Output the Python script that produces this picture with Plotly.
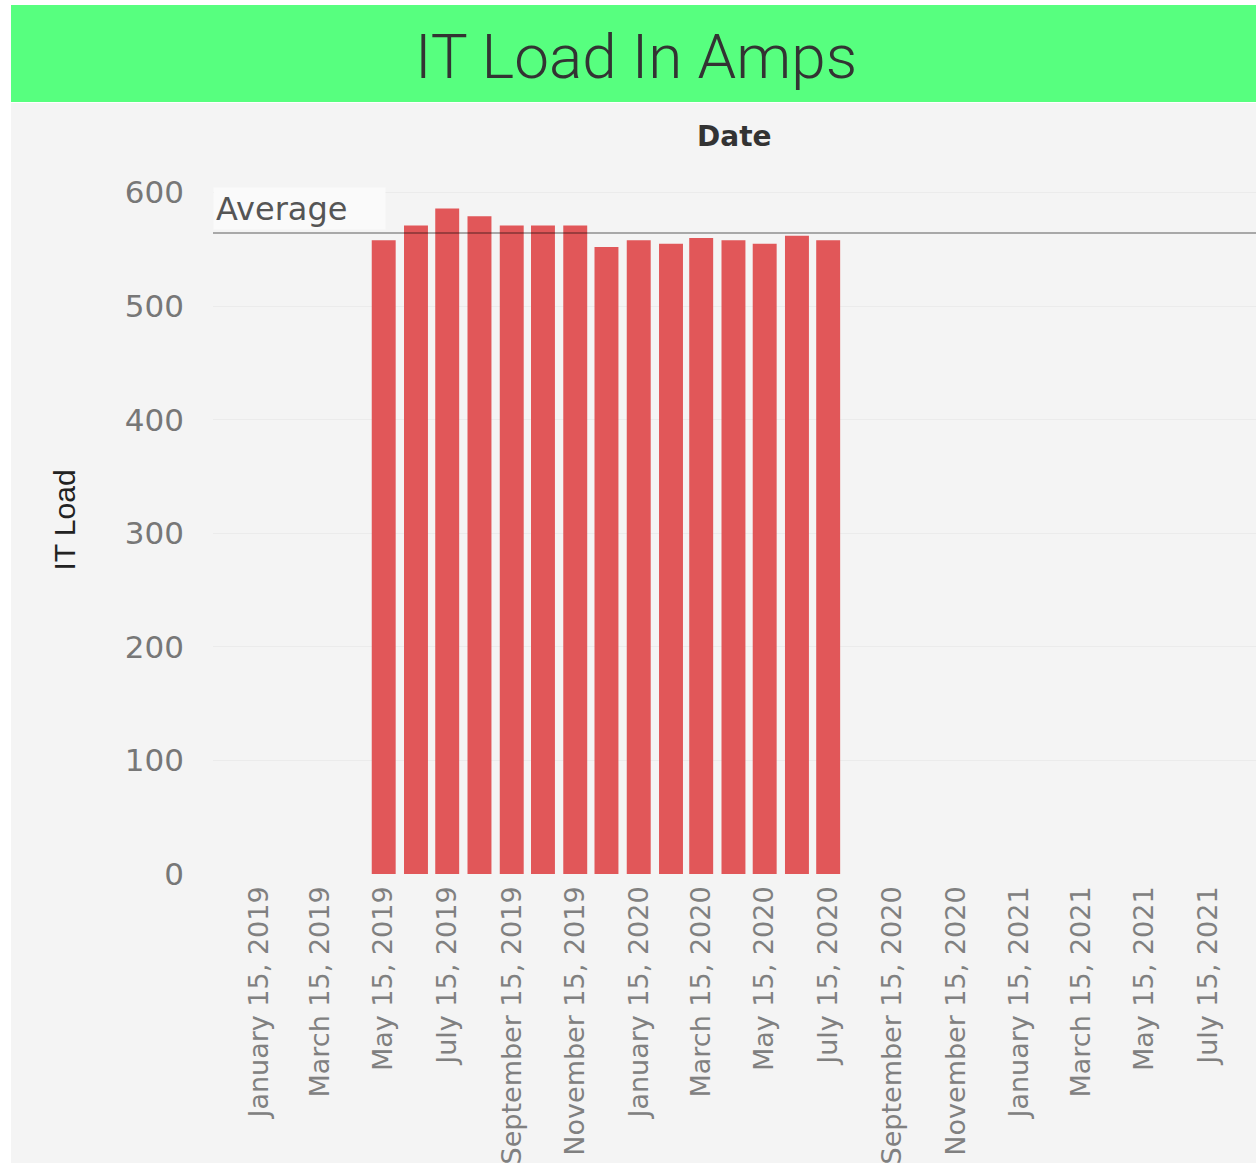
import plotly.graph_objects as go

# Monthly IT load readings (amps), one bar per month on the 15th
months = [
    "2019-05-15", "2019-06-15", "2019-07-15", "2019-08-15", "2019-09-15",
    "2019-10-15", "2019-11-15", "2019-12-15", "2020-01-15", "2020-02-15",
    "2020-03-15", "2020-04-15", "2020-05-15", "2020-06-15", "2020-07-15",
]
it_load = [558, 571, 586, 579, 571, 571, 571, 552, 558, 555, 560, 558, 555, 562, 558]

# Date axis ticks every two months
tick_dates = [
    "2019-01-15", "2019-03-15", "2019-05-15", "2019-07-15", "2019-09-15",
    "2019-11-15", "2020-01-15", "2020-03-15", "2020-05-15", "2020-07-15",
    "2020-09-15", "2020-11-15", "2021-01-15", "2021-03-15", "2021-05-15",
    "2021-07-15",
]
y_ticks = [0, 100, 200, 300, 400, 500, 600]

average = sum(it_load) / len(it_load)

W, H = 1256, 1165
M_L, M_R, M_T, M_B = 213, 0, 166, 291
plot_w = W - M_L - M_R
plot_h = H - M_T - M_B


def px_x(p):
    return (p - M_L) / plot_w


def px_y(p):
    return (H - M_B - p) / plot_h


DAY_MS = 86400000

fig = go.Figure(
    go.Bar(
        x=months,
        y=it_load,
        width=[23 * DAY_MS] * len(months),
        marker=dict(color="#E15759", line=dict(width=0)),
        hovertemplate="%{x|%B %Y}<br>IT Load: %{y}<extra></extra>",
    )
)

fig.update_layout(
    width=W,
    height=H,
    margin=dict(l=M_L, r=M_R, t=M_T, b=M_B, autoexpand=False),
    paper_bgcolor="white",
    plot_bgcolor="rgba(0,0,0,0)",
    showlegend=False,
    shapes=[
        # grey dashboard panel
        dict(type="rect", xref="paper", yref="paper", layer="below",
             x0=px_x(11), x1=1.0, y0=px_y(1163), y1=px_y(103),
             fillcolor="#F4F4F4", line=dict(width=0)),
        # green title banner
        dict(type="rect", xref="paper", yref="paper", layer="below",
             x0=px_x(11), x1=1.0, y0=px_y(102), y1=px_y(5),
             fillcolor="#57FF7F", line=dict(width=0)),
        # average reference line
        dict(type="line", xref="paper", yref="y", layer="above",
             x0=0, x1=1, y0=average, y1=average,
             line=dict(color="rgba(0,0,0,0.31)", width=2)),
    ],
    annotations=[
        dict(text="IT Load In Amps", xref="paper", yref="paper",
             x=px_x(636), y=px_y(56), xanchor="center", yanchor="middle",
             showarrow=False,
             font=dict(family="Roboto", size=62, color="#333333", weight=300)),
        dict(text="<b>Date</b>", xref="paper", yref="paper",
             x=0.5, y=px_y(137), xanchor="center", yanchor="middle",
             showarrow=False,
             font=dict(family="DejaVu Sans", size=28, color="#333333")),
        dict(text="Average", xref="paper", yref="y",
             x=0, y=average, xanchor="left", yanchor="bottom", yshift=3,
             align="left", width=167, height=37, borderpad=2,
             bgcolor="#FAFAFA", showarrow=False,
             font=dict(family="DejaVu Sans", size=32, color="#555555")),
    ],
)

fig.update_xaxes(
    type="date",
    range=["2018-12-02", "2021-08-30"],
    tickvals=tick_dates,
    tickformat="%B %-d, %Y",
    tickangle=-90,
    tickfont=dict(family="DejaVu Sans", size=27, color="#808080"),
    ticks="",
    ticklabelstandoff=6,
    showgrid=False,
    showline=False,
    zeroline=False,
    automargin=False,
)

fig.update_yaxes(
    range=[0, plot_h / 1.1358],
    tickvals=y_ticks,
    tickfont=dict(family="DejaVu Sans", size=31, color="#777777"),
    ticks="",
    ticklabelstandoff=28,
    showgrid=True,
    gridcolor="#EBEBEB",
    gridwidth=1,
    zeroline=False,
    showline=False,
    automargin=False,
    title=dict(text="IT Load", standoff=40,
               font=dict(family="Liberation Sans Narrow, Liberation Sans", size=30,
                         color="#222222")),
)

fig.write_html("out.html")
